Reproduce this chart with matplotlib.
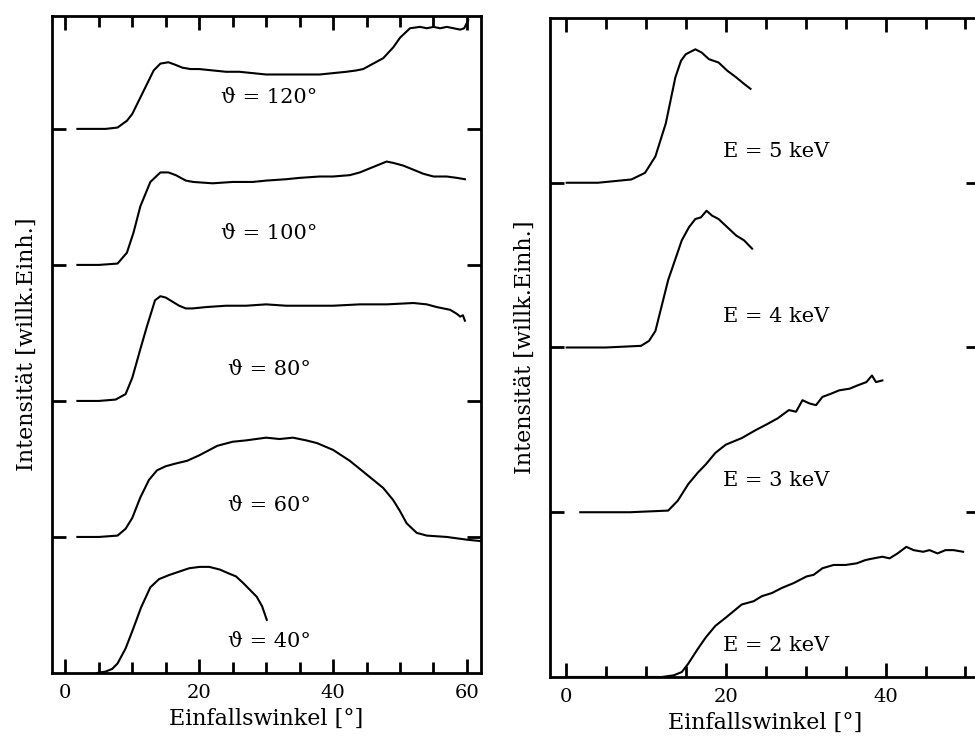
import matplotlib
matplotlib.use("Agg")
import matplotlib.pyplot as plt
from matplotlib.ticker import MultipleLocator

plt.rcParams['font.family'] = ['DejaVu Serif']

# left panel: scattering angle series (relative intensity, stacked)
theta_labels = ["ϑ = 40°", "ϑ = 60°", "ϑ = 80°", "ϑ = 100°", "ϑ = 120°"]

x40 = [4.7, 6, 7, 7.8, 9, 10.1, 11.3, 12.7, 14, 15.5, 16.7, 18.5, 20.1, 21.5, 23.1, 24.5,
       25.5, 26.6, 27.6, 28.6, 29.4, 30.1]
y40 = [0, 0.01, 0.03, 0.07, 0.18, 0.32, 0.48, 0.63, 0.69, 0.72, 0.74, 0.77, 0.78, 0.78,
       0.76, 0.73, 0.71, 0.66, 0.61, 0.56, 0.49, 0.39]

x60 = [1.8, 5, 7.8, 9, 10, 11.2, 12.5, 13.7, 15, 16.5, 18.2, 20, 22.7, 25, 27, 30, 32, 34,
       36, 37.6, 40, 42.5, 44.5, 46, 47.5, 49, 50, 51, 52.5, 54, 57, 60, 62]
y60 = [0, 0, 0.01, 0.06, 0.14, 0.29, 0.42, 0.49, 0.52, 0.54, 0.56, 0.60, 0.67, 0.70, 0.71,
       0.73, 0.72, 0.73, 0.71, 0.69, 0.64, 0.56, 0.48, 0.42, 0.36, 0.27, 0.19, 0.10, 0.03,
       0.01, 0.0, -0.02, -0.03]

x80 = [1.8, 5, 7.5, 9, 10, 10.4, 11.2, 12.2, 13.4, 14.2, 15, 16, 17, 18, 19, 21, 24, 27,
       30, 33, 36, 40, 44, 48, 52, 54, 55.5, 56.5, 57.5, 58.5, 59, 59.4, 59.7]
y80 = [0, 0, 0.01, 0.05, 0.17, 0.24, 0.38, 0.55, 0.74, 0.77, 0.76, 0.73, 0.70, 0.68, 0.68,
       0.69, 0.70, 0.70, 0.71, 0.70, 0.70, 0.70, 0.71, 0.71, 0.72, 0.71, 0.69, 0.68, 0.67,
       0.64, 0.62, 0.63, 0.59]

x100 = [1.8, 5, 7.8, 9.2, 10.2, 11.2, 12.7, 14.2, 15.4, 16.5, 18, 19.1, 22, 25, 28, 30, 33,
        35, 38, 40, 42.5, 44, 46, 48, 49, 50.5, 52, 53.5, 55, 57, 58.5, 59.7]
y100 = [0, 0, 0.01, 0.09, 0.24, 0.43, 0.61, 0.68, 0.68, 0.66, 0.62, 0.61, 0.60, 0.61, 0.61,
        0.62, 0.63, 0.64, 0.65, 0.65, 0.66, 0.68, 0.72, 0.76, 0.75, 0.73, 0.70, 0.67, 0.65,
        0.65, 0.64, 0.63]

x120 = [1.8, 4, 6, 7.8, 9.2, 10, 11.2, 12.2, 13.2, 14.2, 15.4, 16.5, 17.5, 18.7, 20, 22,
        24, 26, 28, 30, 32, 34, 36, 38, 40, 42, 43.5, 44.5, 46, 47.5, 49, 50, 51.5, 53, 54,
        55, 56, 57, 58, 59, 59.6, 60.2]
y120 = [0, 0, 0.0, 0.01, 0.06, 0.11, 0.23, 0.33, 0.43, 0.48, 0.49, 0.47, 0.45, 0.44, 0.44,
        0.43, 0.42, 0.42, 0.41, 0.40, 0.40, 0.40, 0.40, 0.40, 0.41, 0.42, 0.43, 0.44, 0.48,
        0.52, 0.60, 0.67, 0.74, 0.75, 0.74, 0.75, 0.74, 0.75, 0.74, 0.73, 0.74, 0.80]

# right panel: energy series
energy_labels = ["E = 2 keV", "E = 3 keV", "E = 4 keV", "E = 5 keV"]

xe2 = [0, 12, 13.5, 14.5, 15.3, 16.5, 17.5, 18.7, 20, 21, 22, 23.5, 24.5, 25.8, 27, 28.5,
       30.1, 31, 32.1, 33.5, 35, 36.4, 37.5, 38.5, 39.6, 40.5, 41.5, 42.6, 43.5, 44.7, 45.5,
       46.5, 47.5, 48.5, 49.7]
ye2 = [0, 0, 0.01, 0.03, 0.08, 0.17, 0.24, 0.31, 0.36, 0.40, 0.44, 0.46, 0.49, 0.51, 0.54,
       0.57, 0.61, 0.62, 0.66, 0.68, 0.68, 0.69, 0.71, 0.72, 0.73, 0.72, 0.75, 0.79, 0.77,
       0.76, 0.77, 0.75, 0.77, 0.77, 0.76]

xe3 = [1.8, 8, 12.8, 14, 15.3, 16.5, 17.5, 18.7, 20, 22, 23.8, 25, 26.5, 27.9, 28.8, 29.6,
       30.5, 31.3, 32.1, 33.2, 34.2, 35.5, 36.5, 37.6, 38.3, 38.8, 39.6]
ye3 = [0, 0, 0.01, 0.07, 0.17, 0.24, 0.29, 0.36, 0.41, 0.45, 0.50, 0.53, 0.57, 0.62, 0.61,
       0.68, 0.66, 0.65, 0.70, 0.72, 0.74, 0.75, 0.77, 0.79, 0.83, 0.79, 0.80]

xe4 = [0.1, 5, 9.4, 10.4, 11.2, 12.8, 14.5, 15.4, 16.2, 16.9, 17.6, 18.3, 19.1, 20.2, 21.3,
       22.3, 23.3]
ye4 = [0, 0, 0.01, 0.04, 0.10, 0.41, 0.65, 0.73, 0.78, 0.79, 0.83, 0.80, 0.78, 0.73, 0.68,
       0.65, 0.60]

xe5 = [0.1, 4, 8.2, 9.9, 11.2, 12.5, 13.7, 14.4, 15, 16.2, 17, 17.9, 19.1, 20.2, 21.3, 22.3,
       23.1]
ye5 = [0, 0, 0.02, 0.06, 0.16, 0.36, 0.64, 0.74, 0.78, 0.81, 0.79, 0.75, 0.73, 0.68, 0.64,
       0.60, 0.57]

theta_x = [x40, x60, x80, x100, x120]
theta_y = [y40, y60, y80, y100, y120]
energy_x = [xe2, xe3, xe4, xe5]
energy_y = [ye2, ye3, ye4, ye5]


def style_axes(ax, xmax, ymax, nticks):
    ax.set_xlim(-2, xmax)
    ax.set_ylim(0, ymax)
    ax.xaxis.set_major_locator(MultipleLocator(20))
    ax.xaxis.set_minor_locator(MultipleLocator(5))
    ax.set_yticks(range(1, nticks))
    ax.set_yticklabels([])
    ax.tick_params(which='both', direction='in', top=True, right=True, width=2,
                   labelsize=14, pad=8)
    ax.tick_params(which='major', length=10)
    ax.tick_params(which='minor', length=8)
    for s in ax.spines.values():
        s.set_linewidth(2)
    ax.set_xlabel("Einfallswinkel [°]", fontsize=16, labelpad=4)
    ax.set_ylabel("Intensität [willk.Einh.]", fontsize=16, labelpad=2)


fig = plt.figure(figsize=(9.75, 7.41), dpi=100)
ax1 = fig.add_axes([0.0533, 0.0918, 0.44, 0.8866])
ax2 = fig.add_axes([0.564, 0.0864, 0.441, 0.8893])

for i, (xs, ys) in enumerate(zip(theta_x, theta_y)):
    ax1.plot(xs, [v + i for v in ys], color='black', lw=1.5)
    ax1.text(30.5, i + 0.23, theta_labels[i], ha='center', va='center', fontsize=15)
style_axes(ax1, 62.1, 4.83, 5)

for i, (xs, ys) in enumerate(zip(energy_x, energy_y)):
    ax2.plot(xs, [v + i for v in ys], color='black', lw=1.5)
    ax2.text(26.3, i + 0.19, energy_labels[i], ha='center', va='center', fontsize=15)
style_axes(ax2, 51.8, 4.0, 4)

fig.savefig("out.png", dpi=100)
